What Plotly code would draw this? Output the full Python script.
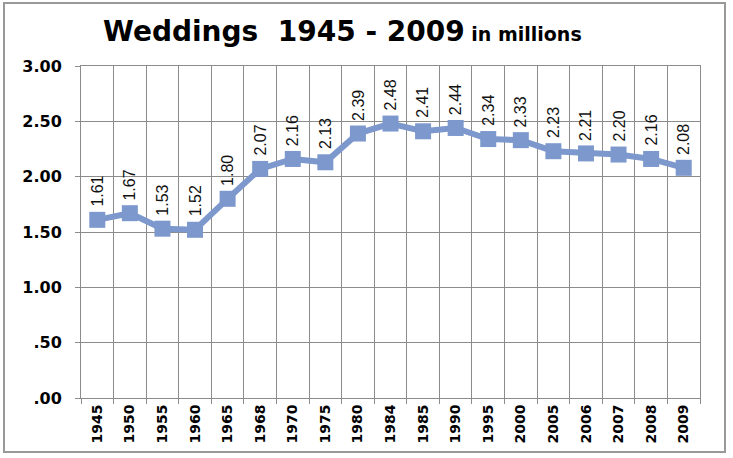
import plotly.graph_objects as go

years = ["1945", "1950", "1955", "1960", "1965", "1968", "1970", "1975", "1980", "1984",
         "1985", "1990", "1995", "2000", "2005", "2006", "2007", "2008", "2009"]
weddings = [1.61, 1.67, 1.53, 1.52, 1.80, 2.07, 2.16, 2.13, 2.39, 2.48,
            2.41, 2.44, 2.34, 2.33, 2.23, 2.21, 2.20, 2.16, 2.08]
y_tickvals = [0, 0.5, 1.0, 1.5, 2.0, 2.5, 3.0]
y_ticktext = [".00", ".50", "1.00", "1.50", "2.00", "2.50", "3.00"]

LINE = "#7C98CC"
GRID = "#8C8C8C"

fig = go.Figure()
fig.add_trace(go.Scatter(
    x=years, y=weddings, mode="lines+markers",
    line=dict(color=LINE, width=6),
    marker=dict(symbol="square", size=16, color=LINE),
    hoverinfo="x+y", showlegend=False,
))

annotations = []
for i, v in enumerate(weddings):
    annotations.append(dict(
        x=i, y=v, xref="x", yref="y", text=f"{v:.2f}", showarrow=False,
        textangle=-90, yanchor="bottom", xanchor="center", yshift=11,
        font=dict(family="Liberation Sans, Arial, sans-serif", size=16, color="#111111"),
    ))

# title
annotations.append(dict(
    x=0.4217, y=1.105, xref="paper", yref="paper", showarrow=False,
    xanchor="center", yanchor="middle",
    text="<span style='font-size:28px'>Weddings  1945 - 2009</span>"
         "<span style='font-size:19px'> in millions</span>",
    font=dict(family="DejaVu Sans, sans-serif", color="#000000", weight="bold"),
))

fig.update_layout(
    width=733, height=458,
    margin=dict(l=81, r=33, t=66, b=60),
    paper_bgcolor="white", plot_bgcolor="white",
    annotations=annotations,
    shapes=[dict(type="rect", xref="paper", yref="paper",
                 x0=-0.1244, x1=1.0404, y0=-0.1627, y1=1.1898,
                 line=dict(color="#999999", width=2), fillcolor="rgba(0,0,0,0)",
                 layer="below")],
)

fig.update_xaxes(
    type="category", range=[-0.5, len(years) - 0.5],
    tickson="boundaries", ticks="outside", ticklen=5, tickcolor=GRID,
    showgrid=True, gridcolor=GRID, gridwidth=1,
    showline=True, linecolor=GRID, linewidth=1, mirror=True,
    tickangle=-90,
    tickfont=dict(family="DejaVu Sans, sans-serif", size=14, color="#000000", weight="bold"),
)
fig.update_yaxes(
    range=[0, 3], tickvals=y_tickvals, ticktext=y_ticktext,
    ticks="outside", ticklen=5, tickcolor=GRID,
    showgrid=True, gridcolor=GRID, gridwidth=1,
    showline=True, linecolor=GRID, linewidth=1, mirror=True,
    zeroline=False,
    ticklabelstandoff=10,
    tickfont=dict(family="DejaVu Sans, sans-serif", size=16, color="#000000", weight="bold"),
)

fig.write_html("out.html")
